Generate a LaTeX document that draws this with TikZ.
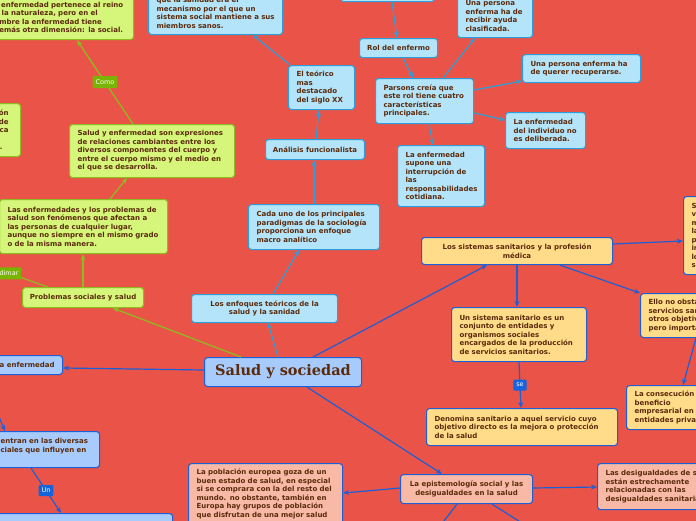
\documentclass[tikz,border=0pt]{standalone}
\usepackage{fontspec}
\setmainfont{DejaVu Sans}
\newfontfamily\titlefamily{DejaVu Serif}
\usetikzlibrary{arrows.meta}
\definecolor{bg}{HTML}{EA5448}
\definecolor{txt}{HTML}{5A2A0A}
\definecolor{lbfill}{HTML}{B4E4FA}
\definecolor{lbline}{HTML}{2C9FDB}
\definecolor{cbfill}{HTML}{A8CBFE}
\definecolor{dline}{HTML}{1C5FD6}
\definecolor{yfill}{HTML}{FFDC8A}
\definecolor{pfill}{HTML}{F8BAA6}
\definecolor{gfill}{HTML}{D5F57B}
\definecolor{gline}{HTML}{8CBD1F}
\definecolor{glab}{HTML}{78B400}
\definecolor{blab}{HTML}{1464DC}
\newcommand\boxfont{\fontsize{7}{8.5}\selectfont\bfseries}
\newcommand\labfont{\fontsize{6.5}{7}\selectfont}
\newcommand\bigtitlefont{\titlefamily\fontsize{14.5}{16}\selectfont\bfseries}
\def\zl#1{\mbox{#1}}
\begin{document}
\begin{tikzpicture}[x=1pt,y=-1pt,
  box/.style={draw, rounded corners=3pt, line width=1.1pt, text=txt, font=\boxfont, inner xsep=8pt, inner ysep=1pt, anchor=north west},
  lb/.style={box, fill=lbfill, draw=lbline},
  cb/.style={box, fill=cbfill, draw=dline},
  yb/.style={box, fill=yfill, draw=dline},
  pb/.style={box, fill=pfill, draw=dline},
  gb/.style={box, fill=gfill, draw=gline},
  tip/.style={-{Stealth[length=6pt,width=5pt]}},
  cl/.style={line width=1.2pt, draw=lbline},
  cd/.style={line width=1.2pt, draw=dline},
  cg/.style={line width=1.2pt, draw=gline},
  glabel/.style={fill=glab, text=white, font=\labfont, inner xsep=3pt, inner ysep=2pt, minimum height=12pt, rounded corners=1pt},
  blabel/.style={fill=blab, text=white, font=\labfont, inner xsep=3pt, inner ysep=2pt, minimum height=11pt, rounded corners=1pt}
]
\useasboundingbox (0,0) rectangle (696,520);
\clip (0,0) rectangle (696,520);
\fill[bg] (-5,-5) rectangle (701,525);

% ---------- nodes: light blue branch ----------
\node[lb, minimum width=146pt, minimum height=28pt, align=center] (enfoques) at (191,294) {Los enfoques teóricos de la\\salud y la sanidad};
\node[lb, text width=115pt, minimum height=45pt, align=left] (cada) at (248,204) {\zl{Cada uno de los principales}\\\zl{paradigmas de la sociología}\\\zl{proporciona un enfoque}\\\zl{macro analítico}};
\node[lb, minimum width=99pt, minimum height=20pt, align=center, inner xsep=2pt] (analisis) at (265,139) {Análisis funcionalista};
\node[lb, text width=50pt, minimum height=44pt, align=left] (teorico) at (288,65) {\zl{El teórico}\\\zl{mas}\\\zl{destacado}\\\zl{del siglo XX}};
\node[lb, text width=118pt, minimum height=43pt, align=left] (sanidadtop) at (148,-9) {\zl{que la sanidad era el}\\\zl{mecanismo por el que un}\\\zl{sistema social mantiene a sus}\\\zl{miembros sanos.}};
\node[lb, minimum width=94pt, minimum height=31pt] (boxtop) at (340,-30) {};
\node[lb, minimum width=78pt, minimum height=19pt, align=center, inner xsep=2pt] (rol) at (359,38) {Rol del enfermo};
\node[lb, text width=59pt, minimum height=43pt, align=left] (ayuda) at (457,-6) {\zl{Una persona}\\\zl{enferma ha de}\\\zl{recibir ayuda}\\\zl{clasificada.}};
\node[lb, text width=82pt, minimum height=45pt, align=left] (parsons) at (375,78) {\zl{Parsons creía que}\\\zl{este rol tiene cuatro}\\\zl{características}\\\zl{principales.}};
\node[lb, text width=102pt, minimum height=28pt, align=left] (querer) at (522,54) {\zl{Una persona enferma ha}\\\zl{de querer recuperarse.}};
\node[lb, text width=64pt, minimum height=36pt, align=left] (deliberada) at (505,112) {\zl{La enfermedad}\\\zl{del individuo no}\\\zl{es deliberada.}};
\node[lb, text width=71pt, minimum height=61pt, align=left] (supone) at (397,145) {\zl{La enfermedad}\\\zl{supone una}\\\zl{interrupción de}\\\zl{las}\\\zl{responsabilidades}\\\zl{cotidiana.}};

% ---------- central blue ----------
\node[cb, minimum width=157pt, minimum height=29pt, font=\bigtitlefont, inner xsep=2pt] (center) at (204,357) {Salud y sociedad};
\node[cb, text width=106pt, minimum height=19pt, align=right] (enfL) at (-60,355) {\zl{a enfermedad}};
\node[cb, text width=91pt, minimum height=36pt, align=left] (entran) at (-8,431) {\zl{entran en las diversas}\\\zl{ciales que influyen en}\\\zl{}};
\node[cb, minimum width=202pt, minimum height=40pt] (bottomL) at (-30,513) {};

% ---------- yellow ----------
\node[yb, minimum width=191pt, minimum height=27pt, align=center] (sistemas) at (421,237) {Los sistemas sanitarios y la profesión\\médica};
\node[yb, text width=44pt, minimum height=78pt, align=left] (sbox) at (683,196) {\zl{S}\\\zl{v}\\\zl{m}\\\zl{la}\\\zl{p}\\\zl{in}\\\zl{lo}\\\zl{s}};
\node[yb, text width=104pt, minimum height=44pt, align=left] (ello) at (640,293) {\zl{Ello no obstante,}\\\zl{servicios sanitarios}\\\zl{otros objetivos}\\\zl{pero importantes}};
\node[yb, text width=94pt, minimum height=44pt, align=left] (consec) at (626,385) {\zl{La consecución del}\\\zl{beneficio}\\\zl{empresarial en las}\\\zl{entidades privadas}};
\node[yb, text width=119pt, minimum height=54pt, align=left] (sistema) at (451,307) {\zl{Un sistema sanitario es un}\\\zl{conjunto de entidades y}\\\zl{organismos sociales}\\\zl{encargados de la producción}\\\zl{de servicios sanitarios.}};
\node[yb, text width=175pt, minimum height=37pt, align=left] (denomina) at (426,408) {\zl{Denomina sanitario a aquel servicio cuyo}\\\zl{objetivo directo es la mejora o protección}\\\zl{de la salud}};

% ---------- pink ----------
\node[pb, minimum width=132pt, minimum height=29pt, align=center, inner xsep=2pt] (episte) at (400,474) {La epistemología social y las\\desigualdades en la salud};
\node[pb, text width=114pt, minimum height=46pt, align=left] (desig) at (597,463) {\zl{Las desigualdades de salud}\\\zl{están estrechamente}\\\zl{relacionadas con las}\\\zl{desigualdades sanitarias}};
\node[pb, text width=138pt, minimum height=61pt, align=left] (poblacion) at (188,463) {\zl{La población europea goza de un}\\\zl{buen estado de salud, en especial}\\\zl{si se comprara con la del resto del}\\\zl{mundo. no obstante, también en}\\\zl{Europa hay grupos de población}\\\zl{que disfrutan de una mejor salud}};

% ---------- green ----------
\node[gb, text width=136pt, minimum height=44pt, align=left] (gtop) at (-19,-5) {\zl{La enfermedad pertenece al reino}\\\zl{de la naturaleza, pero en el}\\\zl{hombre la enfermedad tiene}\\\zl{además otra dimensión: la social.}};
\node[gb, text width=84pt, minimum height=53pt, align=right] (gleft) at (-80,103) {\zl{ón}\kern4pt\\\zl{de}\kern4pt\\\zl{ica}\kern4pt\\\zl{}\\\zl{.}\kern10pt};
\node[gb, text width=149pt, minimum height=53pt, align=left] (saludenf) at (69,124) {\zl{Salud y enfermedad son expresiones}\\\zl{de relaciones cambiantes entre los}\\\zl{diversos componentes del cuerpo y}\\\zl{entre el cuerpo mismo y el medio en}\\\zl{el que se desarrolla.}};
\node[gb, text width=152pt, minimum height=54pt, align=left] (lasenf) at (-1,199) {\zl{Las enfermedades y los problemas de}\\\zl{salud son fenómenos que afectan a}\\\zl{las personas de cualquier lugar,}\\\zl{aunque no siempre en el mismo grado}\\\zl{o de la misma manera.}};
\node[gb, minimum width=121pt, minimum height=20pt, align=center, inner xsep=2pt] (problemas) at (22,287) {Problemas sociales y salud};

\coordinate (offA) at (-6,405);
\coordinate (offB) at (437,530);
\coordinate (offC) at (533,530);
\coordinate (offD) at (-40,256);

% ---------- connectors: light blue ----------
\draw[cl, tip] ([xshift=74pt]center.north west) -- ([xshift=77pt]enfoques.south west);
\draw[cl, tip] ([xshift=82pt]enfoques.north west) -- ([xshift=51pt]cada.south west);
\draw[cl, tip] ([xshift=66pt]cada.north west) -- ([xshift=49pt]analisis.south west);
\draw[cl, tip] ([xshift=51pt]analisis.north west) -- ([xshift=31pt]teorico.south west);
\draw[cl, tip] ([xshift=2pt]teorico.north west) -- ([xshift=105pt]sanidadtop.south west);
\draw[cl, tip] ([xshift=52pt]boxtop.south west) -- ([xshift=38pt]rol.north west);
\draw[cl, tip] ([xshift=44pt]rol.south west) -- ([xshift=38pt]parsons.north west);
\draw[cl, tip] ([xshift=68pt]parsons.north west) -- ([xshift=18pt]ayuda.south west);
\draw[cl, tip] ([yshift=-12pt]parsons.north east) -- ([yshift=2pt]querer.south west);
\draw[cl, tip] ([yshift=-35pt]parsons.north east) -- ([yshift=-8pt]deliberada.north west);
\draw[cl, tip] ([xshift=54pt]parsons.south west) -- ([xshift=36pt]supone.north west);

% ---------- connectors: dark blue ----------
\draw[cd, tip] ([xshift=109pt]center.north west) -- ([xshift=66pt]sistemas.south west);
\draw[cd, tip] ([yshift=-7pt]sistemas.north east) -- ([yshift=-45pt]sbox.north west);
\draw[cd, tip] ([xshift=139pt]sistemas.south west) -- (ello.north west);
\draw[cd, tip] ([xshift=56pt]ello.south west) -- ([xshift=57pt]consec.north west);
\draw[cd, tip] ([xshift=96pt]sistemas.south west) -- ([xshift=66pt]sistema.north west);
\draw[cd, tip] ([xshift=68pt]sistema.south west) -- node[blabel] (se) {se} ([xshift=95pt]denomina.north west);
\draw[cd, tip] ([xshift=103pt]center.south west) -- ([xshift=42pt]episte.north west);
\draw[cd, tip] ([yshift=-14pt]episte.north east) -- ([yshift=-24pt]desig.north west);
\draw[cd, tip] ([yshift=-14pt]episte.north west) -- ([yshift=-30pt]poblacion.north east);
\draw[cd] ([xshift=57pt]episte.south west) -- (offB);
\draw[cd] ([xshift=92pt]episte.south west) -- (offC);
\draw[cd, tip] ([yshift=-13pt]center.north west) -- ([yshift=-13pt]enfL.north east);
\draw[cd, tip] (offA) -- ([xshift=13pt]entran.north west);
\draw[cd, tip] ([xshift=39pt]entran.south west) -- node[blabel] (un) {Un} ([xshift=91pt]bottomL.north west);

% ---------- connectors: green ----------
\draw[cg, tip] ([xshift=37pt]center.north west) -- ([xshift=91pt]problemas.south west);
\draw[cg, tip] ([xshift=61pt]problemas.north west) -- ([xshift=84pt]lasenf.south west);
\draw[cg, tip] ([xshift=111pt]lasenf.north west) -- ([xshift=58pt]saludenf.south west);
\draw[cg, tip] ([xshift=64pt]saludenf.north west) -- node[glabel] (como) {Como} ([xshift=96pt]gtop.south west);
\draw[cg] ([xshift=26pt]problemas.north west) -- node[glabel, pos=0.443] (dimar) {dimar} (offD);
\end{tikzpicture}
\end{document}
